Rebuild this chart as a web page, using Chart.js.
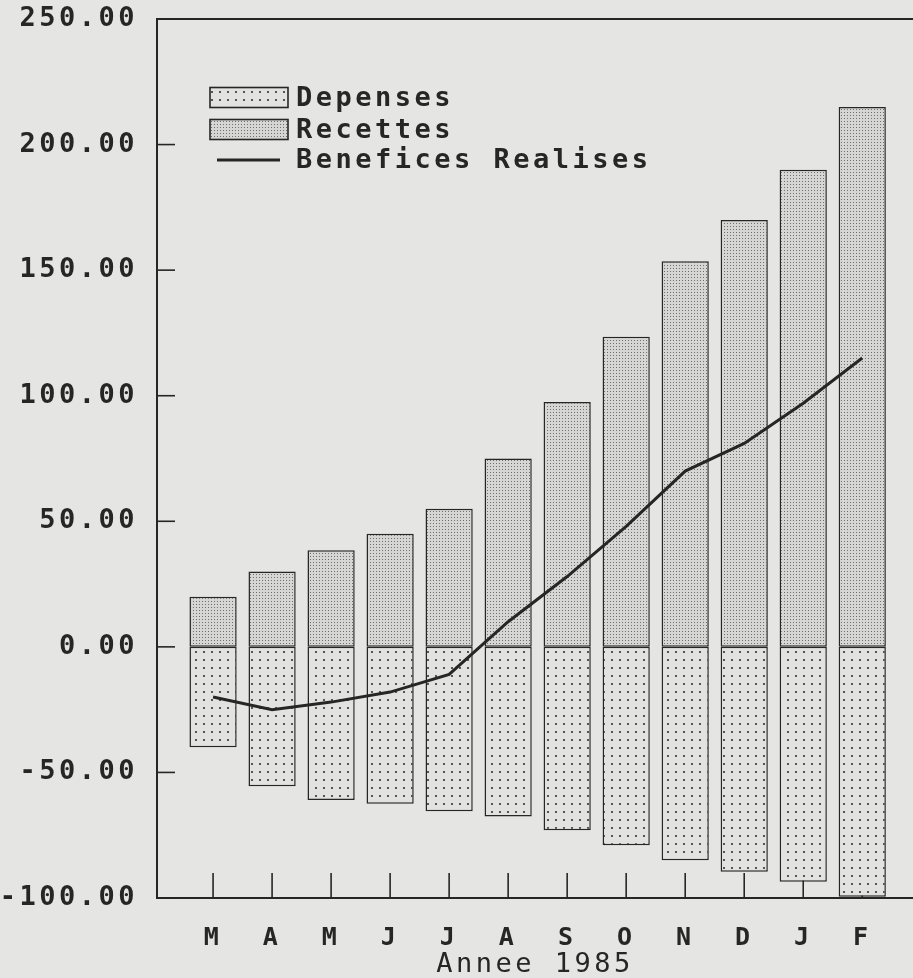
<!DOCTYPE html>
<html>
<head>
<meta charset="utf-8">
<script src="https://cdn.jsdelivr.net/npm/chart.js@4.4.1/dist/chart.umd.min.js"></script>
<style>
  html, body { margin: 0; padding: 0; background: #e5e5e3; }
  #wrap { width: 913px; height: 978px; position: relative; }
</style>
</head>
<body>
<div id="wrap"><canvas id="c"></canvas></div>
<script>
// ---- data ----
const categories = ['M', 'A', 'M', 'J', 'J', 'A', 'S', 'O', 'N', 'D', 'J', 'F'];
const depenses   = [-40, -55.5, -61, -62.5, -65.5, -67.5, -73, -79, -85, -89.5, -93.5, -99.5];
const recettes   = [20, 30, 38.5, 45, 55, 75, 97.5, 123.5, 153.5, 170, 190, 215];
const benefices  = [-20, -25, -22, -18, -11, 10, 28, 48, 70, 81, 97, 115];
const seriesLabels = ['Depenses', 'Recettes', 'Benefices Realises'];
const xTitle = 'Annee 1985';
const yMin = -100, yMax = 250, yStep = 50;

// ---- styling helpers ----
const INK = '#262626';
const FONT_FAMILY = "'DejaVu Sans Mono', 'Liberation Mono', monospace";
const LETTER_SPACING = '3.5px';

function makePattern(size, bg, dot, dotSize, dx, dy) {
  const c = document.createElement('canvas');
  c.width = size; c.height = size;
  const g = c.getContext('2d');
  g.fillStyle = bg; g.fillRect(0, 0, size, size);
  g.fillStyle = dot; g.fillRect(dx, dy, dotSize, dotSize);
  return g.createPattern(c, 'repeat');
}
const depPattern = makePattern(8, '#e2e2e1', '#555555', 2, 3, 3);
const recPattern = makePattern(3, '#d6d6d5', '#6e6e6e', 1, 1, 1);

function setSpacing(ctx) {
  if ('letterSpacing' in ctx) ctx.letterSpacing = LETTER_SPACING;
}

const framePlugin = {
  id: 'frame',
  beforeLayout(chart) { setSpacing(chart.ctx); },
  beforeDraw(chart) {
    const ctx = chart.ctx;
    ctx.save();
    ctx.fillStyle = '#e5e5e3';
    ctx.fillRect(0, 0, chart.width, chart.height);
    ctx.restore();
    setSpacing(ctx);
  },
  beforeDatasetsDraw(chart) {
    const ctx = chart.ctx;
    const a = chart.chartArea;
    const xs = chart.scales.x, ys = chart.scales.y;
    ctx.save();
    ctx.strokeStyle = INK;
    ctx.lineWidth = 1.6;
    // inward x ticks
    xs.ticks.forEach((t, i) => {
      const px = xs.getPixelForTick(i);
      ctx.beginPath();
      ctx.moveTo(px, a.bottom);
      ctx.lineTo(px, a.bottom - 25);
      ctx.stroke();
    });
    // inward y ticks
    ys.ticks.forEach((t, i) => {
      const py = ys.getPixelForTick(i);
      ctx.beginPath();
      ctx.moveTo(a.left, py);
      ctx.lineTo(a.left + 18, py);
      ctx.stroke();
    });
    // top frame line
    ctx.lineWidth = 2;
    ctx.beginPath();
    ctx.moveTo(a.left, a.top);
    ctx.lineTo(chart.width, a.top);
    ctx.stroke();
    ctx.restore();
  },
  afterDraw(chart) {
    // legend inside the plot area
    const ctx = chart.ctx;
    const a = chart.chartArea;
    const ds = chart.data.datasets;
    const boxX = a.left + 53, textX = a.left + 139;
    const rows = [a.top + 78.5, a.top + 110.5, a.top + 141];
    ctx.save();
    setSpacing(ctx);
    ctx.font = 'bold 27px ' + FONT_FAMILY;
    ctx.textBaseline = 'middle';
    ctx.textAlign = 'left';
    ds.forEach((d, i) => {
      const cy = rows[i];
      if (d.type === 'line') {
        ctx.strokeStyle = d.borderColor;
        ctx.lineWidth = d.borderWidth;
        ctx.beginPath();
        ctx.moveTo(boxX + 7, cy);
        ctx.lineTo(boxX + 70, cy);
        ctx.stroke();
      } else {
        ctx.fillStyle = d.backgroundColor;
        ctx.fillRect(boxX, cy - 10, 78, 20);
        ctx.strokeStyle = INK;
        ctx.lineWidth = 1.6;
        ctx.strokeRect(boxX, cy - 10, 78, 20);
      }
      ctx.fillStyle = INK;
      ctx.fillText(d.label, textX, cy + 1);
    });
    ctx.restore();
  }
};

const chart = new Chart(document.getElementById('c'), {
  data: {
    labels: categories,
    datasets: [
      {
        type: 'bar', label: seriesLabels[0], data: depenses,
        backgroundColor: depPattern, borderColor: INK, borderWidth: 1.5, borderSkipped: false,
        grouped: false, barPercentage: 0.8, categoryPercentage: 1.0, order: 2
      },
      {
        type: 'bar', label: seriesLabels[1], data: recettes,
        backgroundColor: recPattern, borderColor: INK, borderWidth: 1.5, borderSkipped: false,
        grouped: false, barPercentage: 0.8, categoryPercentage: 1.0, order: 1
      },
      {
        type: 'line', label: seriesLabels[2], data: benefices,
        borderColor: INK, borderWidth: 3, pointRadius: 0, tension: 0, fill: false, order: 0
      }
    ]
  },
  options: {
    responsive: true,
    maintainAspectRatio: false,
    animation: false,
    layout: { padding: { top: 19, right: 0, left: 0, bottom: 0 } },
    plugins: { legend: { display: false }, tooltip: { enabled: false }, title: { display: false } },
    scales: {
      x: {
        type: 'category',
        offset: true,
        grid: { display: false },
        border: { display: true, color: INK, width: 2 },
        ticks: { color: INK, font: { family: FONT_FAMILY, size: 25, weight: 'bold' }, padding: 17, maxRotation: 0 },
        title: { display: true, text: xTitle, color: INK,
                 font: { family: FONT_FAMILY, size: 27, weight: 'normal', lineHeight: 1 },
                 padding: { top: 0, bottom: 0 } },
        afterBuildTicks(s) { s._startValue = -0.95; s._valueRange = 12.81; },
        afterFit(s) { s.height = 80; s.paddingLeft = 0; s.paddingRight = 0; }
      },
      y: {
        min: yMin, max: yMax,
        grid: { display: false },
        border: { display: true, color: INK, width: 2 },
        ticks: { stepSize: yStep, color: INK, padding: 11,
                 font: { family: FONT_FAMILY, size: 27, weight: 'bold' },
                 callback: v => Number(v).toFixed(2) },
        afterFit(s) { s.width = 157; s.paddingTop = 0; s.paddingBottom = 0; }
      }
    }
  },
  plugins: [framePlugin]
});
</script>
</body>
</html>
